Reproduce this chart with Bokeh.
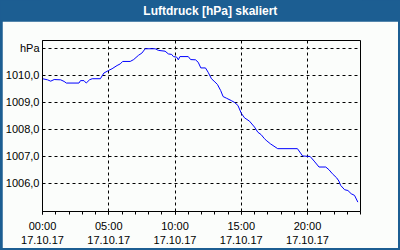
from bokeh.plotting import figure
from bokeh.models import FixedTicker, Range1d, LinearAxis
from bokeh.layouts import column
from bokeh.core.properties import value
from bokeh.embed import file_html
from bokeh.resources import INLINE

title_text = "Luftdruck [hPa] skaliert"
hours = [0.0, 0.38, 0.62, 0.88, 1.37, 1.63, 1.8, 2.75, 2.87, 3.13, 3.3, 3.55, 3.75, 4.37, 4.63, 5.0,
         5.25, 5.63, 5.87, 6.05, 6.62, 6.88, 7.25, 7.5, 7.75, 8.5, 8.75, 9.25, 9.5, 9.75, 9.88, 10.13,
         10.25, 10.37, 11.0, 11.18, 11.55, 11.75, 11.95, 12.3, 12.5, 12.75, 12.95, 13.2, 13.45, 13.63,
         13.88, 14.25, 14.5, 14.75, 15.0, 15.25, 15.62, 16.0, 16.25, 16.5, 16.75, 16.88, 17.2, 17.75,
         19.24, 19.63, 20.2, 20.5, 20.87, 21.38, 21.62, 21.88, 22.2, 22.37, 22.5, 22.8, 23.05, 23.3,
         23.55, 23.8]
pressure = [1009.88, 1009.84, 1009.79, 1009.85, 1009.84, 1009.78, 1009.72, 1009.72, 1009.81, 1009.81,
            1009.72, 1009.84, 1009.88, 1009.88, 1010.09, 1010.19, 1010.25, 1010.37, 1010.43, 1010.52,
            1010.52, 1010.59, 1010.75, 1010.83, 1010.99, 1010.99, 1010.93, 1010.90, 1010.80, 1010.78,
            1010.70, 1010.68, 1010.58, 1010.70, 1010.70, 1010.59, 1010.58, 1010.49, 1010.28, 1010.28,
            1010.12, 1009.88, 1009.79, 1009.67, 1009.44, 1009.22, 1009.16, 1009.07, 1009.00, 1008.89,
            1008.60, 1008.43, 1008.31, 1008.09, 1007.90, 1007.81, 1007.66, 1007.60, 1007.47, 1007.29,
            1007.29, 1007.02, 1007.00, 1006.83, 1006.61, 1006.61, 1006.51, 1006.36, 1006.21, 1006.09,
            1005.93, 1005.77, 1005.74, 1005.62, 1005.56, 1005.31]
x_ticks = [0, 5, 10, 15, 20]
x_time_labels = ["00:00", "05:00", "10:00", "15:00", "20:00"]
x_date_labels = ["17.10.17", "17.10.17", "17.10.17", "17.10.17", "17.10.17"]
x_minor = list(range(0, 25))
y_ticks = [1006, 1007, 1008, 1009, 1010, 1011]
y_tick_labels = ["1006,0", "1007,0", "1008,0", "1009,0", "1010,0", "hPa"]

BLUE = "#1C5E92"
BG = "#FBFDFB"
FONT = "Liberation Sans"

# title bar
head = figure(width=400, height=21, output_backend="svg", toolbar_location=None,
              x_range=Range1d(0, 400), y_range=Range1d(0, 21),
              x_axis_location=None, y_axis_location=None,
              min_border=0, border_fill_color=BLUE, background_fill_color=BLUE)
head.outline_line_color = None
head.grid.visible = False
head.text(x=[211], y=[10.5], text=[title_text], text_color="white", text_font=value(FONT),
          text_font_size="12px", text_font_style="bold", text_align="center", text_baseline="middle")

# chart
p = figure(width=396, height=227, output_backend="svg", toolbar_location=None,
           x_range=Range1d(0, 24), y_range=Range1d(1004.963, 1011.296),
           min_border_left=38, min_border_right=38, min_border_top=19, min_border_bottom=37,
           border_fill_color=BG, background_fill_color=BG, x_axis_location=None)
p.margin = (0, 2, 2, 2)
p.outline_line_color = "black"
p.outline_line_width = 1

p.line(hours, pressure, line_color="#0000FF", line_width=1)

xa = LinearAxis(ticker=FixedTicker(ticks=x_ticks, minor_ticks=x_minor),
                major_label_overrides={t: l for t, l in zip(x_ticks, x_time_labels)})
xb = LinearAxis(ticker=FixedTicker(ticks=x_ticks, minor_ticks=[]),
                major_label_overrides={t: l for t, l in zip(x_ticks, x_date_labels)})
p.add_layout(xa, "below")
p.add_layout(xb, "below")

p.yaxis.ticker = FixedTicker(ticks=y_ticks)
p.yaxis.major_label_overrides = {t: l for t, l in zip(y_ticks, y_tick_labels)}

for ax in (xa, xb, p.yaxis[0]):
    ax.axis_line_color = "black"
    ax.major_label_text_font = FONT
    ax.major_label_text_font_size = "11px"
    ax.major_label_text_color = "black"
    ax.major_tick_in = 0
    ax.minor_tick_in = 0
    ax.major_tick_line_color = "black"
    ax.minor_tick_line_color = "black"
xa.major_tick_out = 3
xa.minor_tick_out = 3
xa.major_label_standoff = 5
xb.axis_line_color = None
xb.major_tick_line_color = None
xb.minor_tick_line_color = None
xb.major_tick_out = 0
xb.minor_tick_out = 0
xb.major_label_standoff = 1
p.yaxis.major_tick_out = 0
p.yaxis.minor_tick_out = 0
p.yaxis.major_label_standoff = 3

p.xgrid.ticker = xa.ticker
p.xgrid.grid_line_color = "black"
p.xgrid.grid_line_dash = "3 3"
p.ygrid.grid_line_color = "black"
p.ygrid.grid_line_dash = "3 3"

layout = column(head, p, spacing=0, styles={"background-color": BLUE})

open("out.html", "w").write(file_html(layout, INLINE))
